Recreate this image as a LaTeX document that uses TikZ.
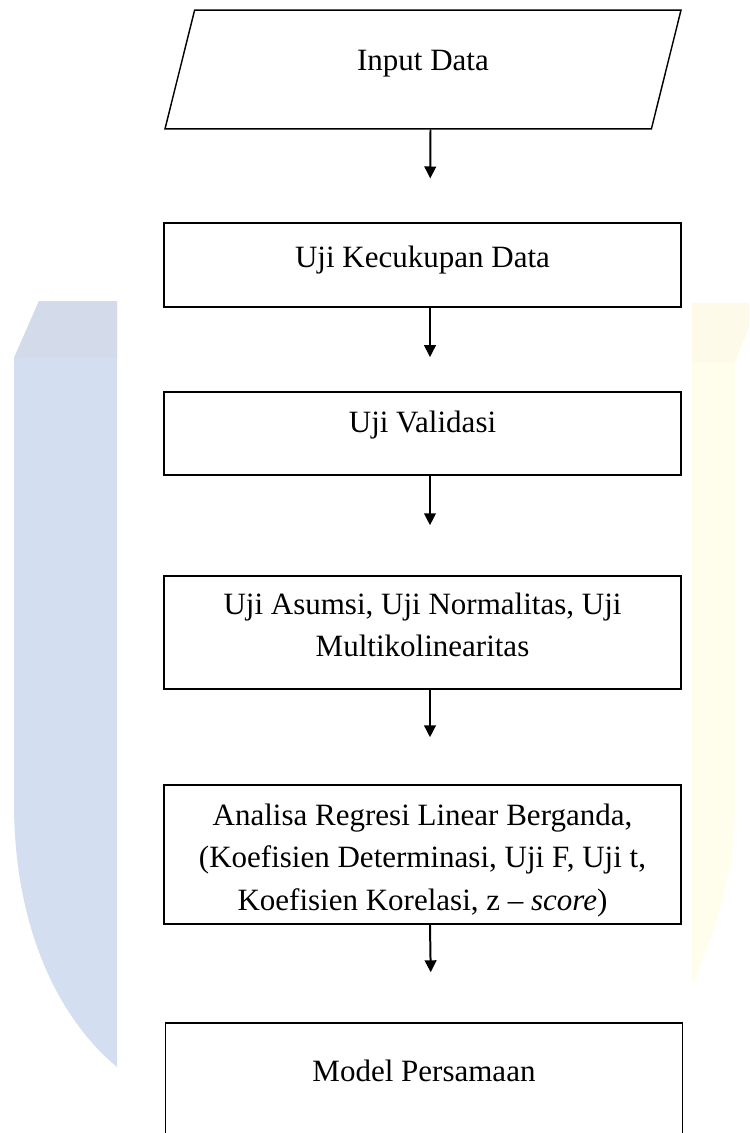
\documentclass[tikz,border=0pt]{standalone}
\usepackage{fontspec}
\setmainfont{Liberation Serif}
\usepackage{tikz}
\usetikzlibrary{arrows.meta,shapes.geometric}

\definecolor{wmblue}{RGB}{211,223,241}
\definecolor{wmbluetop}{RGB}{211,219,234}
\definecolor{wmyellow}{RGB}{255,253,236}
\definecolor{wmyellowtop}{RGB}{253,250,234}

\tikzset{
    box/.style={draw, line width=0.55pt, minimum width=200.1pt, inner xsep=0pt, inner ysep=0pt,
        align=center, font=\fontsize{12}{16.3}\selectfont},
    iobox/.style={box, trapezium, trapezium left angle=76, trapezium right angle=104,
        trapezium stretches body=true, minimum width=199.7pt},
    flow/.style={-{Triangle[length=4.6pt,width=4.5pt]}, line width=0.77pt}
}

\begin{document}
\begin{tikzpicture}[x=0.387pt,y=-0.387pt]
        % Page frame
        \useasboundingbox (0,0) rectangle (749,1133);
        \clip (0,0) rectangle (749,1133);
        % Draw watermark
        \fill[wmblue] (39,301) -- (117,301) -- (117,1067) .. controls (60,1020) and (14,930) .. (14,803) -- (14,358) -- cycle;
        \fill[wmbluetop] (39,301) -- (117,301) -- (117,358) -- (14,358) -- cycle;
        \fill[wmyellow] (692,303) -- (749,303) -- (749,327) -- (735,362) -- (735,800) .. controls (735,880) and (712,940) .. (692,985) -- cycle;
        \fill[wmyellowtop] (692,303) -- (749,303) -- (749,327) -- (735,362) -- (692,362) -- cycle;
        % Draw steps
        \node[iobox, text height=23.2pt, text depth=22.8pt] (input) at (423,69.5) {Input Data};
        \node[box, text height=17.4pt, text depth=15.1pt] (kecukupan) at (422.5,265) {Uji Kecukupan Data};
        \node[box, text height=15.9pt, text depth=16.3pt] (validasi) at (422.5,433.5) {Uji Validasi};
        \node[box, text height=31.3pt, text depth=12.4pt] (asumsi) at (422.5,632.5) {Uji Asumsi, Uji Normalitas, Uji\\Multikolinearitas};
        \node[box, text height=48.4pt, text depth=5.4pt] (regresi) at (422.5,854.5) {Analisa Regresi Linear Berganda,\\(Koefisien Determinasi, Uji F, Uji t,\\Koefisien Korelasi, z – \textit{score})};
        \node[box, text height=22.8pt, text depth=30.2pt] (model) at (424,1091.5) {Model Persamaan};
        % Draw arrows
        \foreach \a/\b/\g in {input/kecukupan/17.0pt, kecukupan/validasi/13.2pt, validasi/asumsi/19.4pt,
                asumsi/regresi/18.2pt, regresi/model/19.4pt} {
            \draw[flow, shorten >=\g] ([xshift=2.9pt]\a.south) -- ([xshift=2.9pt]\b.north);
        }
    \end{tikzpicture}
\end{document}
